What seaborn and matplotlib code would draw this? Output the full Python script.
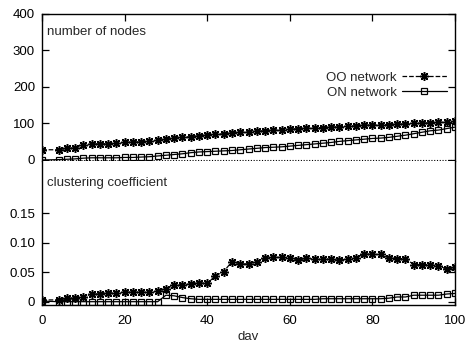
import matplotlib
matplotlib.use("Agg")
import matplotlib.pyplot as plt
import seaborn as sns

days = [0, 4, 6, 8, 10, 12, 14, 16, 18, 20, 22, 24, 26, 28, 30, 32, 34, 36, 38, 40,
        42, 44, 46, 48, 50, 52, 54, 56, 58, 60, 62, 64, 66, 68, 70, 72, 74, 76, 78, 80,
        82, 84, 86, 88, 90, 92, 94, 96, 98, 100]

oo_nodes = [28, 28, 32, 33, 40, 44, 44, 45, 46, 48, 49, 50, 51, 54, 57, 60, 62, 64, 66, 69,
            70, 72, 74, 76, 77, 79, 80, 82, 83, 84, 86, 87, 88, 89, 90, 91, 92, 94, 95, 96,
            97, 97, 98, 99, 100, 101, 102, 103, 104, 106]
on_nodes = [0, 1, 2, 3, 5, 6, 6, 6, 6, 7, 7, 8, 9, 11, 13, 15, 17, 20, 22, 23,
            24, 25, 26, 28, 30, 32, 34, 35, 36, 38, 40, 42, 44, 46, 48, 51, 53, 55, 57, 59,
            60, 62, 65, 68, 72, 76, 80, 82, 86, 90]

oo_cc = [0.003, 0.003, 0.006, 0.006, 0.008, 0.013, 0.013, 0.015, 0.015, 0.016,
         0.016, 0.016, 0.016, 0.018, 0.022, 0.028, 0.029, 0.030, 0.032, 0.031,
         0.044, 0.051, 0.068, 0.064, 0.064, 0.068, 0.074, 0.075, 0.075, 0.074,
         0.070, 0.074, 0.072, 0.072, 0.072, 0.070, 0.073, 0.074, 0.081, 0.080,
         0.080, 0.074, 0.073, 0.073, 0.063, 0.063, 0.063, 0.061, 0.055, 0.058]
on_cc = [0.001, 0.0, 0.0, 0.0, 0.0, 0.0, 0.0, 0.0, 0.0, 0.0,
         0.0, 0.0, 0.0, 0.0, 0.011, 0.010, 0.007, 0.005, 0.004, 0.004,
         0.004, 0.004, 0.004, 0.004, 0.004, 0.004, 0.004, 0.004, 0.004, 0.004,
         0.004, 0.004, 0.004, 0.005, 0.005, 0.005, 0.005, 0.005, 0.005, 0.005,
         0.005, 0.006, 0.008, 0.008, 0.011, 0.011, 0.011, 0.011, 0.013, 0.014]

series_labels = ["OO network", "ON network"]
top_ticks = [0, 100, 200, 300, 400]
top_ticklabels = ["0", "100", "200", "300", "400"]
bot_ticks = [0, 0.05, 0.10, 0.15]
bot_ticklabels = ["0", "0.05", "0.10", "0.15"]
x_ticks = [0, 20, 40, 60, 80, 100]

sns.set_style("ticks")
plt.rcParams["font.family"] = ["Liberation Sans", "DejaVu Sans"]
plt.rcParams["font.size"] = 9.5

W, H = 467, 347
fig = plt.figure(figsize=(W / 100, H / 100), dpi=100)

left = 42 / W
width = (455 - 42) / W
ax_top = fig.add_axes([left, 1 - 160.5 / H, width, (160.5 - 14) / H])
ax_bot = fig.add_axes([left, 1 - 305 / H, width, (305 - 160.5) / H])

star = (8, 2, 0)
oo_style = dict(color="black", linestyle="--", linewidth=0.9, marker=star,
                markersize=6.3, markeredgewidth=1.1, markeredgecolor="black")
on_style = dict(color="black", linestyle="-", linewidth=0.9, marker="s",
                markersize=5, markeredgewidth=0.9, markeredgecolor="black",
                markerfacecolor="none")

sns.lineplot(x=days, y=oo_nodes, ax=ax_top, estimator=None, label=series_labels[0], **oo_style)
sns.lineplot(x=days, y=on_nodes, ax=ax_top, estimator=None, label=series_labels[1], **on_style)
sns.lineplot(x=days, y=oo_cc, ax=ax_bot, estimator=None, legend=False, **oo_style)
sns.lineplot(x=days, y=on_cc, ax=ax_bot, estimator=None, legend=False, **on_style)

ax_top.axhline(0, color="black", linestyle=(0, (1, 1.5)), linewidth=0.8)

for ax in (ax_top, ax_bot):
    ax.set_xlim(0, 100)
    ax.set_xticks(x_ticks)
    ax.tick_params(direction="in", length=5, width=0.9, top=True, right=True,
                   colors="black", labelsize=9.5)
    ax.tick_params(axis="y", pad=5)
    ax.tick_params(axis="x", pad=7)
    for s in ax.spines.values():
        s.set_linewidth(1.0)
        s.set_color("black")
    ax.set_xlabel("")
    ax.set_ylabel("")

ax_top.set_ylim(-1.4, 400)
ax_top.set_yticks(top_ticks)
ax_top.set_yticklabels(top_ticklabels)
ax_top.spines["bottom"].set_visible(False)
ax_top.tick_params(axis="x", bottom=False, labelbottom=False)

ax_bot.set_ylim(-0.0056, 0.2393)
ax_bot.set_yticks(bot_ticks)
ax_bot.set_yticklabels(bot_ticklabels)
ax_bot.spines["top"].set_visible(False)
ax_bot.tick_params(axis="x", top=False)

ax_top.text(0.012, 0.877, "number of nodes", transform=ax_top.transAxes,
            ha="left", va="center", fontsize=9.5)
ax_bot.text(0.012, 0.845, "clustering coefficient", transform=ax_bot.transAxes,
            ha="left", va="center", fontsize=9.5)
fig.text(248 / W, 1 - 337 / H, "dav", ha="center", va="center", fontsize=9.5)

ax_top.legend(loc="upper right", bbox_to_anchor=(0.98, 0.605), frameon=False,
              markerfirst=False, handlelength=3.4, handletextpad=0.4,
              labelspacing=0.2, borderpad=0, borderaxespad=0, fontsize=9.5)

fig.savefig("out.png", dpi=100)
